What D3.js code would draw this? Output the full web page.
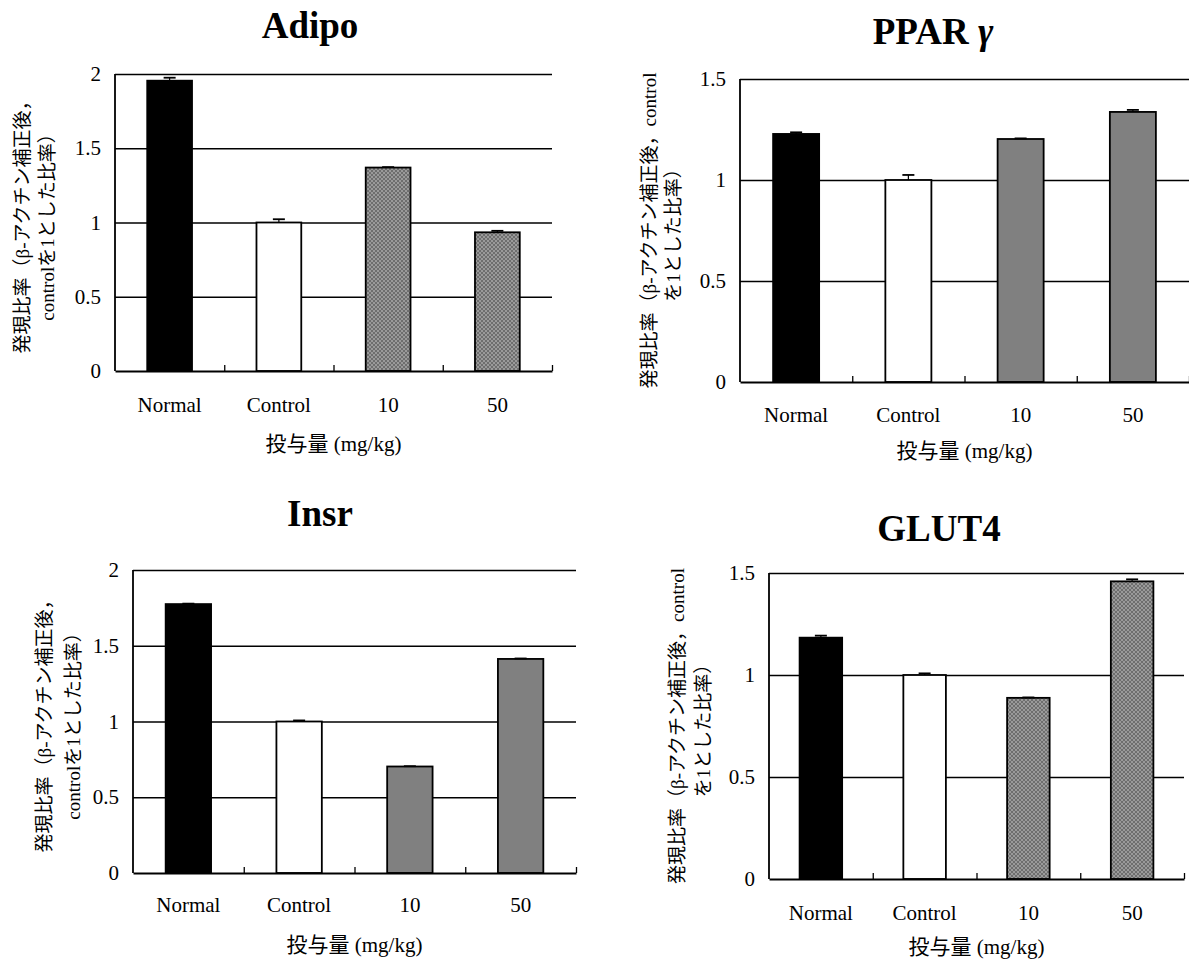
<!DOCTYPE html>
<html>
<head>
<meta charset="utf-8">
<script src="https://cdn.jsdelivr.net/npm/d3@7/dist/d3.min.js"></script>
<style>
  body { margin: 0; background: #fff; }
  svg text { font-family: "Liberation Serif", "Noto Sans CJK JP", serif; fill: #000; }
</style>
</head>
<body>
<svg id="chart" width="1189" height="961"></svg>
<script>
// categories and axis labels shared by the four panels
var categories = ["Normal", "Control", "10", "50"];
var xTitle = "投与量 (mg/kg)";

// Adipo
var adipoValues = [1.955, 1.0, 1.37, 0.934];
var adipoErrors = [0.02, 0.022, 0.003, 0.01];
var adipoTicks = [0, 0.5, 1, 1.5, 2];

// PPAR gamma
var pparValues = [1.228, 1.0, 1.203, 1.337];
var pparErrors = [0.008, 0.025, 0.003, 0.01];
var pparTicks = [0, 0.5, 1, 1.5];

// Insr
var insrValues = [1.775, 1.0, 0.703, 1.413];
var insrErrors = [0.003, 0.007, 0.002, 0.003];
var insrTicks = [0, 0.5, 1, 1.5, 2];

// GLUT4
var glutValues = [1.183, 1.0, 0.888, 1.459];
var glutErrors = [0.01, 0.008, 0.002, 0.01];
var glutTicks = [0, 0.5, 1, 1.5];

var svg = d3.select("#chart");

// dotted grey fill used in Adipo and GLUT4
var defs = svg.append("defs");
var pat = defs.append("pattern").attr("id", "dots")
    .attr("width", 4).attr("height", 4).attr("patternUnits", "userSpaceOnUse");
pat.append("rect").attr("width", 4).attr("height", 4).attr("fill", "#9a9a9a");
pat.append("rect").attr("width", 2).attr("height", 2).attr("fill", "#6e6e6e");
pat.append("rect").attr("x", 2).attr("y", 2).attr("width", 2).attr("height", 2).attr("fill", "#6e6e6e");

var panels = [
    {title: "Adipo", greek: "", values: adipoValues, errors: adipoErrors, ticks: adipoTicks,
     left: 115, right: 552, top: 74, bottom: 371, titleX: 310, titleY: 38,
     labelY: 412, xTitleY: 451, yLines: ["発現比率（β-アクチン補正後，", "controlを1とした比率）"], yLineX: [22, 47],
     grey: "url(#dots)"},
    {title: "PPAR ", greek: "γ", values: pparValues, errors: pparErrors, ticks: pparTicks,
     left: 740, right: 1189, top: 79, bottom: 382, titleX: 933, titleY: 44,
     labelY: 422, xTitleY: 458, yLines: ["発現比率（β-アクチン補正後，control", "を1とした比率）"], yLineX: [649, 673],
     grey: "#808080"},
    {title: "Insr", greek: "", values: insrValues, errors: insrErrors, ticks: insrTicks,
     left: 133, right: 576, top: 570, bottom: 873, titleX: 320, titleY: 526,
     labelY: 912, xTitleY: 952, yLines: ["発現比率（β-アクチン補正後，", "controlを1とした比率）"], yLineX: [44, 73],
     grey: "#808080"},
    {title: "GLUT4", greek: "", values: glutValues, errors: glutErrors, ticks: glutTicks,
     left: 769, right: 1184, top: 573, bottom: 879, titleX: 939, titleY: 541,
     labelY: 920, xTitleY: 954, yLines: ["発現比率（β-アクチン補正後，control", "を1とした比率）"], yLineX: [677, 703],
     grey: "url(#dots)"}
];

panels.forEach(function(p) {
    var fills = ["#000", "#fff", p.grey, p.grey];
    var w = p.right - p.left, h = p.bottom - p.top;
    var g = svg.append("g").attr("transform", "translate(" + p.left + "," + p.top + ")");

    var x = d3.scaleBand().domain(categories).range([0, w]).paddingInner(0.59).paddingOuter(0.295);
    var y = d3.scaleLinear().domain([0, d3.max(p.ticks)]).range([h, 0]);
    var xEdge = d3.scaleLinear().domain([0, categories.length]).range([0, w]);

    // horizontal gridlines
    var grid = g.append("g").call(d3.axisLeft(y).tickValues(p.ticks.slice(1)).tickSize(-w).tickFormat(""));
    grid.select(".domain").remove();
    grid.selectAll("line").attr("stroke", "#000").attr("stroke-width", 1.6);

    // y tick labels
    var ya = g.append("g").call(d3.axisLeft(y).tickValues(p.ticks).tickSize(0).tickPadding(14)
        .tickFormat(function(d) { return d; }));
    ya.select(".domain").remove();
    ya.selectAll("text").attr("font-size", 21);

    // bars
    g.selectAll(".bar").data(p.values).enter().append("rect")
        .attr("x", function(d, i) { return x(categories[i]); })
        .attr("y", function(d) { return y(d); })
        .attr("width", x.bandwidth())
        .attr("height", function(d) { return h - y(d); })
        .attr("fill", function(d, i) { return fills[i]; })
        .attr("stroke", "#000").attr("stroke-width", 1.8);

    // error bars (upper only)
    p.values.forEach(function(v, i) {
        var cx = x(categories[i]) + x.bandwidth() / 2;
        g.append("line").attr("x1", cx).attr("x2", cx)
            .attr("y1", y(v)).attr("y2", y(v + p.errors[i]))
            .attr("stroke", "#000").attr("stroke-width", 1.2);
        g.append("line").attr("x1", cx - 6).attr("x2", cx + 6)
            .attr("y1", y(v + p.errors[i])).attr("y2", y(v + p.errors[i]))
            .attr("stroke", "#000").attr("stroke-width", 1.8);
    });

    // y axis line
    g.append("line").attr("x1", 0).attr("x2", 0).attr("y1", 0).attr("y2", h)
        .attr("stroke", "#000").attr("stroke-width", 1.8);

    // x axis with inside ticks between categories
    var xa = g.append("g").attr("transform", "translate(0," + h + ")")
        .call(d3.axisBottom(xEdge).tickValues(d3.range(1, categories.length + 1)).tickSize(-6).tickSizeOuter(0).tickFormat(""));
    xa.select(".domain").attr("stroke-width", 1.8);
    xa.selectAll("line").attr("stroke-width", 1.3);

    // category labels
    g.selectAll(".cat").data(categories).enter().append("text")
        .attr("x", function(d) { return x(d) + x.bandwidth() / 2; })
        .attr("y", p.labelY - p.top)
        .attr("text-anchor", "middle").attr("font-size", 21)
        .text(function(d) { return d; });

    // x title
    svg.append("text").attr("x", p.left + w / 2).attr("y", p.xTitleY)
        .attr("text-anchor", "middle").attr("font-size", 21).text(xTitle);

    // y title, two rotated lines
    p.yLines.forEach(function(t, k) {
        svg.append("text")
            .attr("transform", "translate(" + p.yLineX[k] + "," + (p.top + h / 2) + ") rotate(-90)")
            .attr("text-anchor", "middle").attr("dominant-baseline", "central")
            .attr("font-size", 19).attr("fill", "#222").text(t);
    });

    // panel title
    var tt = svg.append("text").attr("x", p.titleX).attr("y", p.titleY)
        .attr("text-anchor", "middle").attr("font-size", 37).attr("font-weight", "bold");
    tt.append("tspan").text(p.title);
    if (p.greek) tt.append("tspan").attr("font-style", "italic").text(p.greek);
});
</script>
</body>
</html>
